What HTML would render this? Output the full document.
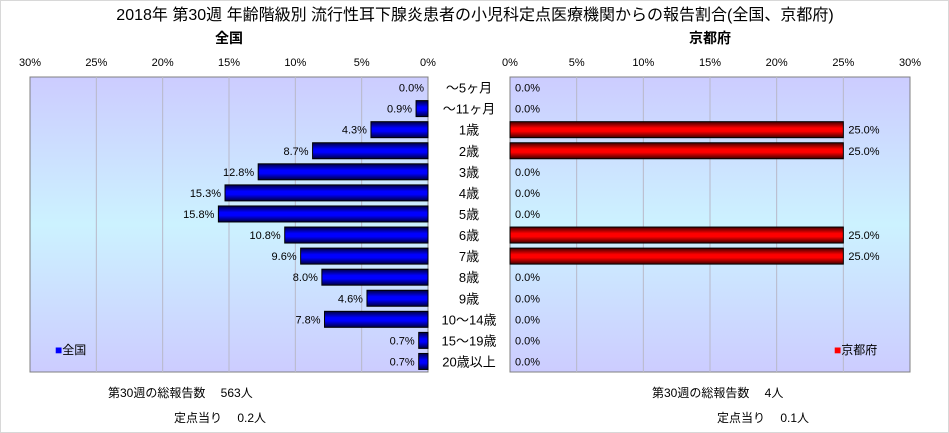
<!DOCTYPE html>
<html><head><meta charset="utf-8">
<style>
body{margin:0;background:#fff;}
svg{display:block;font-family:"Liberation Sans","Noto Sans CJK JP",sans-serif;}
</style></head>
<body>
<svg id="c" width="949" height="433" viewBox="0 0 949 433">
<defs>
<linearGradient id="bg" x1="0" y1="0" x2="0" y2="1">
<stop offset="0" stop-color="#ccccff"/><stop offset="0.5" stop-color="#ccf2ff"/><stop offset="1" stop-color="#ccccff"/>
</linearGradient>
<linearGradient id="gb" x1="0" y1="0" x2="0" y2="1">
<stop offset="0" stop-color="#000040"/><stop offset="0.4" stop-color="#0000ff"/><stop offset="0.6" stop-color="#0000ff"/><stop offset="1" stop-color="#000040"/>
</linearGradient>
<linearGradient id="gr" x1="0" y1="0" x2="0" y2="1">
<stop offset="0" stop-color="#400000"/><stop offset="0.4" stop-color="#ff0000"/><stop offset="0.6" stop-color="#ff0000"/><stop offset="1" stop-color="#400000"/>
</linearGradient>
</defs>
<rect x="0.5" y="0.5" width="948" height="432" fill="#fff" stroke="#d8d8d8"/>
<text x="475" y="20" text-anchor="middle" font-size="16">2018年 第30週 年齢階級別 流行性耳下腺炎患者の小児科定点医療機関からの報告割合(全国、京都府)</text>
<text x="229" y="43" text-anchor="middle" font-size="14" font-weight="bold">全国</text>
<text x="710" y="43" text-anchor="middle" font-size="14" font-weight="bold">京都府</text>
<rect x="30" y="77" width="398" height="295" fill="url(#bg)" stroke="#808080"/>
<rect x="510" y="77" width="400" height="295" fill="url(#bg)" stroke="#808080"/>
<g id="g"></g>
<text x="55" y="354" font-size="12"><tspan fill="#0000ff">■</tspan>全国</text>
<text x="834" y="354" font-size="12"><tspan fill="#ff0000">■</tspan>京都府</text>
<text x="108" y="397" font-size="12">第30週の総報告数　 563人</text>
<text x="174" y="422" font-size="12">定点当り　 0.2人</text>
<text x="652" y="397" font-size="12">第30週の総報告数　 4人</text>
<text x="717" y="422" font-size="12">定点当り　 0.1人</text>
</svg>
<script>
const categories=["～5ヶ月","～11ヶ月","1歳","2歳","3歳","4歳","5歳","6歳","7歳","8歳","9歳","10～14歳","15～19歳","20歳以上"];
const national=[0.0,0.9,4.3,8.7,12.8,15.3,15.8,10.8,9.6,8.0,4.6,7.8,0.7,0.7];
const kyoto=[0,0,25.0,25.0,0,0,0,25.0,25.0,0,0,0,0,0];
const ticks=[0,5,10,15,20,25,30];
const NS="http://www.w3.org/2000/svg";
const g=document.getElementById('g');
const top0=77,rowH=295/categories.length,barH=16;
const xL=v=>428-v/30*398;
const xR=v=>510+v/30*400;
const y=i=>top0+rowH*i+rowH/2;
function mk(t,a,txt){const e=document.createElementNS(NS,t);for(const k in a)e.setAttribute(k,a[k]);if(txt!==undefined)e.textContent=txt;g.appendChild(e);return e;}
ticks.forEach(t=>{
 if(t>0&&t<30){
  const l1=mk('line',{x1:xL(t),x2:xL(t),y1:77,y2:372,stroke:'#b8b8c8'});
  
  
  const l2=mk('line',{x1:xR(t),x2:xR(t),y1:77,y2:372,stroke:'#b8b8c8'});
  
  
 }
 const a=mk('text',{x:xL(t),y:66,'text-anchor':'middle','font-size':11},t+'%');
 
 
 const b=mk('text',{x:xR(t),y:66,'text-anchor':'middle','font-size':11},t+'%');
 
 
});
categories.forEach((c,i)=>{
 const cy=y(i);
 const lab=mk('text',{x:469,y:cy+5,'text-anchor':'middle','font-size':13},c);
 
 
 const v=national[i];
 if(v>0){
  const r=mk('rect',{x:xL(v),y:cy-barH/2,width:428-xL(v),height:barH,fill:'url(#gb)',stroke:'#000','stroke-width':1});
  
  
 }
 const t=mk('text',{x:xL(v)-4,y:cy+4,'text-anchor':'end','font-size':11},v.toFixed(1)+'%');
 
 
 const k=kyoto[i];
 if(k>0){
  const r=mk('rect',{x:510,y:cy-barH/2,width:xR(k)-510,height:barH,fill:'url(#gr)',stroke:'#000','stroke-width':1});
  
  
 }
 const t2=mk('text',{x:xR(k)+5,y:cy+4,'font-size':11},k.toFixed(1)+'%');
 
 
});
</script>
</body></html>
